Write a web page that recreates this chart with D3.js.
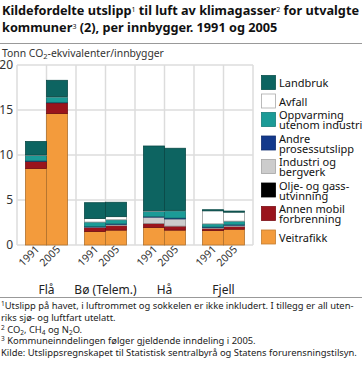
<!doctype html>
<html lang="no">
<head>
	<meta charset="UTF-8">
	<title>Kildefordelte utslipp | d3</title>
	<style>
		body { margin: 0; background: #fff; }
		svg { display: block; font-family: "Noto Sans", sans-serif; }
		.grid line { stroke: #dcdcdc; stroke-width: 1.5; }
		.tick-y { fill: #333; font-size: 12px; }
		.year { fill: #333; font-size: 10.5px; }
		.kommune { fill: #222; font-size: 12px; }
		.legend text { fill: #111; font-size: 11px; }
		.note { fill: #222; font-size: 9.6px; }
	</style>
</head>
<body>
	<script src="https://cdn.jsdelivr.net/npm/d3@7/dist/d3.min.js"></script>
	<script>
		// data (tonn CO2-ekv. per innbygger)
		var kommuner = ['Flå', 'Bø (Telem.)', 'Hå', 'Fjell'],
			years = ['1991', '2005'],
			yTicks = [0, 5, 10, 15, 20];

		// order of every series: Flå 91, Flå 05, Bø 91, Bø 05, Hå 91, Hå 05, Fjell 91, Fjell 05
		var veitrafikk   = [8.5, 14.6, 1.5, 1.65, 1.95, 1.65, 1.6, 1.75],
			annenMobil   = [0.8, 1.2, 0.45, 0.5, 0.45, 0.45, 0.25, 0.3],
			oljeGass     = [0, 0, 0, 0, 0, 0, 0, 0],
			industri     = [0, 0, 0.05, 0.15, 0.7, 0.8, 0.1, 0.15],
			andreProsess = [0.05, 0.05, 0.05, 0.05, 0.05, 0.1, 0.05, 0.05],
			oppvarming   = [0.6, 0.6, 0.5, 0.45, 0.6, 0.8, 0.35, 0.4],
			avfall       = [0.05, 0.05, 0.4, 0.35, 0.05, 0.05, 1.45, 1.0],
			landbruk     = [1.5, 1.8, 1.75, 1.6, 7.2, 6.9, 0.12, 0.12];

		// stacking order, bottom first
		var kilder = [
			{ key: 'veitrafikk', label: ['Veitrafikk'], color: '#f39b3c', values: veitrafikk },
			{ key: 'annenMobil', label: ['Annen mobil', 'forbrenning'], color: '#9a141c', values: annenMobil },
			{ key: 'oljeGass', label: ['Olje- og gass-', 'utvinning'], color: '#000000', values: oljeGass },
			{ key: 'industri', label: ['Industri og', 'bergverk'], color: '#cccccc', values: industri },
			{ key: 'andreProsess', label: ['Andre', 'prosessutslipp'], color: '#13398b', values: andreProsess },
			{ key: 'oppvarming', label: ['Oppvarming', 'utenom industri'], color: '#1b9b97', values: oppvarming },
			{ key: 'avfall', label: ['Avfall'], color: '#ffffff', values: avfall },
			{ key: 'landbruk', label: ['Landbruk'], color: '#0d6461', values: landbruk }
		];

		var w = 362,
			h = 367,
			plot = { left: 17, right: 253, top: 65, bottom: 245 };

		var svg = d3.select('body')
			.append('svg')
			.attr('width', w)
			.attr('height', h);

		// rows for the stack
		var rows = [];
		kommuner.forEach(function(k, i) {
			years.forEach(function(y, j) {
				var row = { kommune: k, year: y };
				kilder.forEach(function(s) {
					row[s.key] = s.values[i * years.length + j];
				});
				rows.push(row);
			});
		});

		var stack = d3.stack().keys(kilder.map(function(s) { return s.key; }));
		var series = stack(rows);

		var x0 = d3.scaleBand()
			.domain(kommuner)
			.range([plot.left, plot.right]);

		var x1 = d3.scaleBand()
			.domain(years)
			.range([0, x0.bandwidth()])
			.paddingOuter(0.405);

		var y = d3.scaleLinear()
			.domain([0, 20])
			.range([plot.bottom, plot.top]);

		var color = d3.scaleOrdinal()
			.domain(kilder.map(function(s) { return s.key; }))
			.range(kilder.map(function(s) { return s.color; }));

		// writes text pieces; 1 = superscript, -1 = subscript
		var addParts = function(el, parts, small) {
			parts.forEach(function(p) {
				var ts = el.append('tspan').text(p[0]);
				if (p[1] === 1) {
					ts.attr('baseline-shift', '38%').style('font-size', small + 'px').style('font-weight', 'normal');
				} else if (p[1] === -1) {
					ts.attr('baseline-shift', '-22%').style('font-size', small + 'px');
				}
			});
		};

		// shrink the font of a text until it is no wider than maxW
		var fitWidth = function(el, maxW) {
			var len = el.node().getComputedTextLength();
			if (len > maxW) {
				var fs = parseFloat(window.getComputedStyle(el.node()).fontSize);
				el.style('font-size', (fs * maxW / len) + 'px');
			}
		};

		/**
		* title, separators and y label
		*/
		var drawHeader = function() {
			var t1 = svg.append('text')
				.attr('x', 2)
				.attr('y', 15)
				.attr('fill', '#111')
				.style('font-weight', 'bold')
				.style('font-size', '13px');
			addParts(t1, [['Kildefordelte utslipp', 0], ['1', 1], [' til luft av klimagasser', 0], ['2', 1], [' for utvalgte', 0]], 7);
			fitWidth(t1, 357);

			var t2 = svg.append('text')
				.attr('x', 2)
				.attr('y', 32)
				.attr('fill', '#111')
				.style('font-weight', 'bold')
				.style('font-size', t1.style('font-size'));
			addParts(t2, [['kommuner', 0], ['3', 1], [' (2), per innbygger. 1991 og 2005', 0]], 7);

			svg.append('line')
				.attr('x1', 0).attr('x2', w)
				.attr('y1', 43.5).attr('y2', 43.5)
				.attr('stroke', '#999');

			var lab = svg.append('text')
				.attr('x', 2)
				.attr('y', 57)
				.attr('fill', '#333')
				.style('font-size', '11px');
			addParts(lab, [['Tonn CO', 0], ['2', -1], ['-ekvivalenter/innbygger', 0]], 7.5);
			fitWidth(lab, 162);

			svg.append('line')
				.attr('x1', 0).attr('x2', w)
				.attr('y1', 297.5).attr('y2', 297.5)
				.attr('stroke', '#999');
		};

		/**
		* grid and y axis
		*/
		var drawGrid = function() {
			var g = svg.append('g').attr('class', 'grid');

			g.selectAll('line.h')
				.data(yTicks)
				.enter()
				.append('line')
				.attr('class', 'h')
				.attr('x1', plot.left).attr('x2', plot.right)
				.attr('y1', function(d) { return y(d); })
				.attr('y2', function(d) { return y(d); });

			// lines at each group edge and group middle
			var vx = [];
			kommuner.forEach(function(k) {
				vx.push(x0(k));
				vx.push(x0(k) + x0.bandwidth() / 2);
			});
			vx.push(plot.right);

			g.selectAll('line.v')
				.data(vx)
				.enter()
				.append('line')
				.attr('class', 'v')
				.attr('x1', function(d) { return d; })
				.attr('x2', function(d) { return d; })
				.attr('y1', plot.top).attr('y2', plot.bottom);

			var axis = svg.append('g')
				.attr('transform', 'translate(' + plot.left + ',0)')
				.call(d3.axisLeft(y).tickValues(yTicks).tickSize(0).tickPadding(4));
			axis.select('.domain').remove();
			axis.selectAll('text')
				.attr('class', 'tick-y')
				.attr('fill', null)
				.style('font-family', 'Noto Sans')
				.style('font-size', '12px');
		};

		/**
		* stacked bars
		*/
		var drawBars = function() {
			var layers = svg.append('g')
				.selectAll('g')
				.data(series)
				.enter()
				.append('g')
				.attr('fill', function(d) { return color(d.key); })
				.attr('stroke', function(d) {
					return d.key === 'avfall' ? '#9a9a9a' : d3.color(color(d.key)).darker(0.9);
				})
				.attr('stroke-width', 0.8);

			layers.selectAll('rect')
				.data(function(d) { return d.filter(function(v) { return v[1] - v[0] > 0; }); })
				.enter()
				.append('rect')
				.attr('x', function(d) { return x0(d.data.kommune) + x1(d.data.year); })
				.attr('width', x1.bandwidth())
				.attr('y', function(d) { return y(d[1]); })
				.attr('height', function(d) { return y(d[0]) - y(d[1]); });

			// year labels
			svg.append('g')
				.selectAll('text')
				.data(rows)
				.enter()
				.append('text')
				.attr('class', 'year')
				.attr('text-anchor', 'end')
				.attr('transform', function(d) {
					var cx = x0(d.kommune) + x1(d.year) + x1.bandwidth() / 2 + 4;
					return 'translate(' + cx + ',' + (plot.bottom + 5) + ') rotate(-45)';
				})
				.text(function(d) { return d.year; });

			svg.append('g')
				.selectAll('text')
				.data(kommuner)
				.enter()
				.append('text')
				.attr('class', 'kommune')
				.attr('text-anchor', 'middle')
				.attr('x', function(d) { return x0(d) + x0.bandwidth() / 2; })
				.attr('y', 294)
				.text(function(d) { return d; });
		};

		/**
		* legend, top item first
		*/
		var drawLegend = function() {
			var items = kilder.slice().reverse(),
				top = 75;

			var lg = svg.append('g').attr('class', 'legend');

			items.forEach(function(s) {
				var two = s.label.length > 1;
				var g = lg.append('g').attr('transform', 'translate(261,' + top + ')');

				g.append('rect')
					.attr('x', 0.5).attr('y', 0.5)
					.attr('width', 14).attr('height', 14)
					.attr('fill', s.color)
					.attr('stroke', s.key === 'avfall' ? '#aaa' : d3.color(s.color).darker(0.6))
					.attr('stroke-width', 0.8);

				s.label.forEach(function(line, i) {
					g.append('text')
						.attr('x', 18)
						.attr('y', two ? 7 + i * 10 : 12)
						.text(line);
				});

				top += two ? 23.5 : 18.5;
			});
		};

		/**
		* footnotes
		*/
		var drawNotes = function() {
			var notes = [
				[['1', 1], ['Utslipp på havet, i luftrommet og sokkelen er ikke inkludert. I tillegg er all uten-', 0]],
				[['riks sjø- og luftfart utelatt.', 0]],
				[['2', 1], [' CO', 0], ['2', -1], [', CH', 0], ['4', -1], [' og N', 0], ['2', -1], ['O.', 0]],
				[['3', 1], [' Kommuneinndelingen følger gjeldende inndeling i 2005.', 0]],
				[['Kilde: Utslippsregnskapet til Statistisk sentralbyrå og Statens forurensningstilsyn.', 0]]
			];
			var widths = [354, 0, 0, 0, 356];

			var els = notes.map(function(parts, i) {
				var t = svg.append('text')
					.attr('class', 'note')
					.attr('x', 1)
					.attr('y', 309 + i * 11.8);
				addParts(t, parts, 6.5);
				return t;
			});

			// same size for all lines, small enough for the widest
			var fs = 9.6;
			[0, 4].forEach(function(i) {
				var len = els[i].node().getComputedTextLength();
				fs = Math.min(fs, 9.6 * widths[i] / len);
			});
			els.forEach(function(t) { t.style('font-size', fs + 'px'); });
		};

		drawGrid();
		drawBars();
		drawHeader();
		drawLegend();
		drawNotes();

	</script>
</body>
</html>
